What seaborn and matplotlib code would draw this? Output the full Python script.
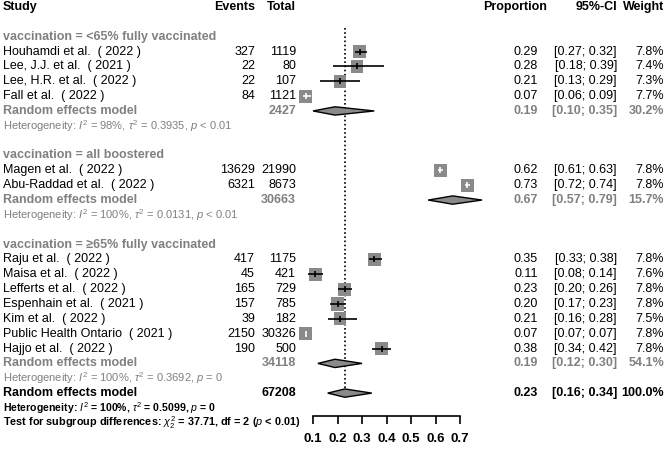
import numpy as np
import pandas as pd
import seaborn as sns
import matplotlib.pyplot as plt
from matplotlib.transforms import blended_transform_factory

# STYLE
sns.set_theme(style="white")
plt.rcParams['font.family'] = ['Liberation Sans', 'DejaVu Sans']
plt.rcParams['mathtext.fontset'] = 'custom'
plt.rcParams['mathtext.rm'] = 'Liberation Sans'
plt.rcParams['mathtext.it'] = 'Liberation Sans:italic'
plt.rcParams['mathtext.bf'] = 'Liberation Sans:bold'

# DATA
studies = ["Houhamdi et al.  ( 2022 )", "Lee, J.J. et al.  ( 2021 )", "Lee, H.R. et al.  ( 2022 )",
           "Fall et al.  ( 2022 )", "Magen et al.  ( 2022 )", "Abu-Raddad et al.  ( 2022 )",
           "Raju et al.  ( 2022 )", "Maisa et al.  ( 2022 )", "Lefferts et al.  ( 2022 )",
           "Espenhain et al.  ( 2021 )", "Kim et al.  ( 2022 )", "Public Health Ontario  ( 2021 )",
           "Hajjo et al.  ( 2022 )"]
group_idx = [0, 0, 0, 0, 1, 1, 2, 2, 2, 2, 2, 2, 2]
events = [327, 22, 22, 84, 13629, 6321, 417, 45, 165, 157, 39, 2150, 190]
totals = [1119, 80, 107, 1121, 21990, 8673, 1175, 421, 729, 785, 182, 30326, 500]
prop = [0.29, 0.28, 0.21, 0.07, 0.62, 0.73, 0.35, 0.11, 0.23, 0.20, 0.21, 0.07, 0.38]
ci_lo = [0.27, 0.18, 0.13, 0.06, 0.61, 0.72, 0.33, 0.08, 0.20, 0.17, 0.16, 0.07, 0.34]
ci_hi = [0.32, 0.39, 0.29, 0.09, 0.63, 0.74, 0.38, 0.14, 0.26, 0.23, 0.28, 0.07, 0.42]
weights = [7.8, 7.4, 7.3, 7.7, 7.8, 7.8, 7.8, 7.6, 7.8, 7.8, 7.5, 7.8, 7.8]

group_labels = ["vaccination = <65% fully vaccinated", "vaccination = all boostered",
                "vaccination = \u226565% fully vaccinated"]
sub_total = [2427, 30663, 34118]
sub_prop = [0.19, 0.67, 0.19]
sub_lo = [0.10, 0.57, 0.12]
sub_hi = [0.35, 0.79, 0.30]
sub_weight = [30.2, 15.7, 54.1]
sub_i2 = ["98%", "100%", "100%"]
sub_tau2 = ["0.3935", "0.0131", "0.3692"]
sub_p = ["< 0.01", "< 0.01", "= 0"]

overall_total = 67208
overall_prop, overall_lo, overall_hi = 0.23, 0.16, 0.34
overall_het = r"Heterogeneity: $I^2$ = 100%, $\tau^2$ = 0.5099, $p$ = 0"
subgroup_test = r"Test for subgroup differences: $\chi^2_2$ = 37.71, df = 2 ($p$ < 0.01)"
x_ticks = [0.1, 0.2, 0.3, 0.4, 0.5, 0.6, 0.7]

# ROW LAYOUT
study_rows, group_rows, sub_rows, het_rows = [], [], [], []
r = 2
for g in range(3):
    group_rows.append(r)
    r += 1
    for i, gi in enumerate(group_idx):
        if gi == g:
            study_rows.append(r)
            r += 1
    sub_rows.append(r)
    het_rows.append(r + 1)
    r += 3
overall_row = r - 1  # 27
df = pd.DataFrame({"study": studies, "row": study_rows, "prop": prop,
                   "lo": ci_lo, "hi": ci_hi, "weight": weights})

# FIGURE
W, H = 667, 449
row_px, top_px = 14.85, 7
fig = plt.figure(figsize=(W / 100, H / 100), dpi=100)
x0_px, unit_px = 313 - 0.1 * 245, 245  # pixel of value 0 and pixels per unit
ax = fig.add_axes([x0_px / W, 0, 0.8 * unit_px / W, 1])
ax.set_xlim(0, 0.8)
ax.set_ylim((H - top_px) / row_px, -top_px / row_px)
ax.patch.set_alpha(0)

gray = "#8a8a8a"
tgray = "#808080"

# squares
k = 88 / 7.8
sns.scatterplot(data=df, x="prop", y="row", size="weight", sizes=(7.3 * k, 7.8 * k),
                size_norm=(7.3, 7.8), marker="s", color=gray, edgecolor="none",
                legend=False, ax=ax, zorder=3)
half = 0.026
for _, d in df.iterrows():
    inside = (d["hi"] - d["prop"] < half) and (d["prop"] - d["lo"] < half)
    c = "white" if inside else "black"
    ax.hlines(d["row"], d["lo"], d["hi"], color=c, lw=1.2, zorder=4)
    ax.plot(d["prop"], d["row"], marker="|", ms=4, mew=1.2, color=c, zorder=4)

# diamonds
def diamond(est, lo, hi, y, h=0.28):
    ax.fill([lo, est, hi, est, lo], [y, y - h, y, y + h, y], facecolor=gray,
            edgecolor="black", lw=1.0, zorder=3)

for g in range(3):
    diamond(sub_prop[g], sub_lo[g], sub_hi[g], sub_rows[g])
diamond(overall_prop, overall_lo, overall_hi, overall_row)

# reference line
ax.vlines(overall_prop, 1.4, overall_row, color="black", lw=1.2, linestyles=(0, (1, 1.5)), zorder=2)

# axis
for s in ["top", "left", "right"]:
    ax.spines[s].set_visible(False)
ax.spines["bottom"].set_position(("data", 27.54))
ax.spines["bottom"].set_bounds(0.1, 0.7)
ax.spines["bottom"].set_color("black")
ax.spines["bottom"].set_linewidth(1.2)
ax.set_xticks(x_ticks)
ax.set_xticklabels([f"{t:.1f}" for t in x_ticks], fontweight="bold")
ax.tick_params(axis="x", direction="out", length=5.5, width=1.2, pad=6.5, labelsize=9.5,
               bottom=True, colors="black")
ax.set_yticks([])
ax.set_xlabel("")
ax.set_ylabel("")

# TEXT COLUMNS
tr = blended_transform_factory(fig.transFigure, ax.transData)
fs, fs_het = 9, 8

def txt(xpx, y, s, ha="left", color="black", weight="normal", size=fs):
    ax.text(xpx / W, y, s, transform=tr, ha=ha, va="center", color=color,
            fontweight=weight, fontsize=size)

txt(3, 0, "Study", weight="bold")
txt(255, 0, "Events", ha="right", weight="bold")
txt(296, 0, "Total", ha="right", weight="bold")
txt(547, 0, "Proportion", ha="right", weight="bold")
txt(617, 0, "95%-CI", ha="right", weight="bold")
txt(664, 0, "Weight", ha="right", weight="bold")

for i in range(len(studies)):
    y = study_rows[i]
    txt(3, y, studies[i])
    txt(255, y, str(events[i]), ha="right")
    txt(296, y, str(totals[i]), ha="right")
    txt(538, y, f"{prop[i]:.2f}", ha="right")
    txt(617, y, f"[{ci_lo[i]:.2f}; {ci_hi[i]:.2f}]", ha="right")
    txt(664, y, f"{weights[i]:.1f}%", ha="right")

for g in range(3):
    txt(3, group_rows[g], group_labels[g], color=tgray, weight="bold")
    y = sub_rows[g]
    txt(3, y, "Random effects model", color=tgray, weight="bold")
    txt(296, y, str(sub_total[g]), ha="right", color=tgray, weight="bold")
    txt(538, y, f"{sub_prop[g]:.2f}", ha="right", color=tgray, weight="bold")
    txt(617, y, f"[{sub_lo[g]:.2f}; {sub_hi[g]:.2f}]", ha="right", color=tgray, weight="bold")
    txt(664, y, f"{sub_weight[g]:.1f}%", ha="right", color=tgray, weight="bold")
    txt(3, het_rows[g], rf"Heterogeneity: $I^2$ = {sub_i2[g]}, $\tau^2$ = {sub_tau2[g]}, $p$ {sub_p[g]}",
        color=tgray, size=fs_het)

txt(3, overall_row, "Random effects model", weight="bold")
txt(296, overall_row, str(overall_total), ha="right", weight="bold")
txt(538, overall_row, f"{overall_prop:.2f}", ha="right", weight="bold")
txt(617, overall_row, f"[{overall_lo:.2f}; {overall_hi:.2f}]", ha="right", weight="bold")
txt(664, overall_row, "100.0%", ha="right", weight="bold")
txt(3, overall_row + 1, overall_het, size=7.6, weight="bold")
txt(3, overall_row + 2, subgroup_test, size=7.8, weight="bold")

fig.savefig("out.png", dpi=100, facecolor="white")
